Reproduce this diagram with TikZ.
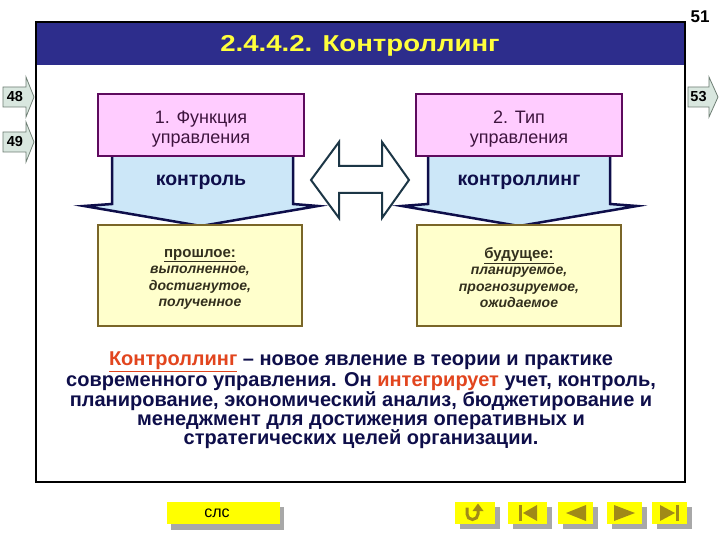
\documentclass[tikz,border=0pt]{standalone}
\usepackage{fontspec}
\setmainfont{Liberation Sans}
\usetikzlibrary{arrows.meta}
\definecolor{titleblue}{HTML}{2D2D8C}
\definecolor{titleyellow}{HTML}{FFFF3C}
\definecolor{pinkfill}{HTML}{FFCCFF}
\definecolor{pinkedge}{HTML}{5E0A5E}
\definecolor{pinktext}{HTML}{3E143E}
\definecolor{bluefill}{HTML}{CCE7F8}
\definecolor{navy}{HTML}{0E0E4A}
\definecolor{yellowfill}{HTML}{FFFFCC}
\definecolor{yellowedge}{HTML}{7A6628}
\definecolor{boxtext}{HTML}{33301E}
\definecolor{darkslate}{HTML}{1C3646}
\definecolor{redtext}{HTML}{E2451E}
\definecolor{navfill}{HTML}{D9E7DF}
\definecolor{navedge}{HTML}{6E7E74}
\definecolor{btnyellow}{HTML}{FFFF00}
\definecolor{btnshadow}{HTML}{A8A8A8}
\definecolor{glyph}{HTML}{A08A18}
\begin{document}
\begin{tikzpicture}[x=1pt,y=-1pt,
	funcbox/.style={draw=pinkedge, line width=2pt, fill=pinkfill, minimum width=206pt, minimum height=62pt, text=pinktext, align=center, font=\fontsize{18}{20}\selectfont},
	timebox/.style={draw=yellowedge, line width=1.6pt, fill=yellowfill, minimum width=204pt, minimum height=101pt, text=boxtext, align=center, font=\fontsize{14}{16.5}\selectfont\bfseries\itshape},
	arrowlabel/.style={text=navy, font=\fontsize{19.5}{22}\selectfont\bfseries},
	downarrow/.style={fill=bluefill, draw=navy, line width=2.5pt, line join=miter},
	navarrow/.style={fill=navfill, draw=navedge, line width=0.8pt},
	navnum/.style={font=\fontsize{14.5}{16}\selectfont\bfseries},
	btn/.style={fill=btnyellow},
	btnshade/.style={fill=btnshadow}]

	\useasboundingbox (0,0) rectangle (720,540);
	\fill[white] (0,0) rectangle (720,540);

	% frame and title
	\fill[titleblue] (36,22) rectangle (685,65);
	\draw[line width=2pt] (36,22) rectangle (685,482);
	\node[text=titleyellow, font=\fontsize{23}{28}\selectfont\bfseries\addfontfeature{FakeStretch=1.2}] (title) at (360,45.5) {2.4.4.2. Контроллинг};
	\node[font=\fontsize{17}{20}\selectfont\bfseries] (page) at (700,16.5) {51};

	% side links
	\draw[navarrow] (3,87)--(26,87)--(26,77)--(34,97)--(26,117)--(26,107)--(3,107)--cycle;
	\node[navnum] (p48) at (15,97) {48};
	\draw[navarrow] (3,132)--(26,132)--(26,122)--(34,142)--(26,162)--(26,152)--(3,152)--cycle;
	\node[navnum] (p49) at (15,142) {49};
	\draw[navarrow] (688,87)--(709,87)--(709,77)--(718,97)--(709,117)--(709,107)--(688,107)--cycle;
	\node[navnum] (p53) at (698.5,97) {53};

	% blue arrows
	\draw[downarrow] (112,150)--(112,204)--(84,206)--(201,226)--(318,206)--(293,204)--(293,150);
	\draw[downarrow] (428,150)--(428,204)--(402,206)--(519,226)--(637,206)--(610,204)--(610,150);
	\node[arrowlabel] (ctrl) at (201,182.5) {контроль};
	\node[arrowlabel] (ctrlling) at (519,182.5) {контроллинг};

	% pink boxes
	\node[funcbox] (func) at (201,125) {\rule{0pt}{19.8pt}1. Функция\\управления};
	\node[funcbox] (type) at (519,125) {\rule{0pt}{19.8pt}2. Тип\\управления};

	% double arrow
	\draw[draw=darkslate, fill=white, line width=2pt]
		(311,180)--(339,142)--(339,166)--(382,166)--(382,142)--(409,180)
		--(382,218)--(382,193)--(339,193)--(339,218)--cycle;

	% yellow boxes
	\node[timebox] (past) at (200,275.5) {{\fontsize{15}{16.5}\selectfont\upshape\rule{0pt}{15.5pt}\underline{прошлое:}}\\
		выполненное,\\достигнутое,\\полученное};
	\node[timebox] (future) at (519,275.5) {{\fontsize{15}{16.5}\selectfont\upshape\rule{0pt}{15.5pt}\underline{будущее:}}\\
		планируемое,\\прогнозируемое,\\ожидаемое};

	% text
	\node[text=navy, align=center, font=\fontsize{20}{19.3}\selectfont\bfseries] (about) at (361,400.5)
		{\textcolor{redtext}{\underline{Контроллинг}} -- новое явление в теории и практике\\
		современного управления. Он \textcolor{redtext}{интегрирует} учет, контроль,\\
		планирование, экономический анализ, бюджетирование и\\
		менеджмент для достижения оперативных и\\
		стратегических целей организации.};

	% buttons
	\fill[btnshade] (171,507) rectangle (284,530);
	\fill[btn] (167,502) rectangle (280,524);
	\node[font=\fontsize{16}{18}\selectfont] (slc) at (217,513) {слс};

	\foreach \bx/\ex in {455/495, 508/547, 558/593, 607/642, 652/687} {
		\fill[btnshade] (\bx+5,507) rectangle (\ex+5,529);
		\fill[btn] (\bx,502) rectangle (\ex,524);
	}
	% glyphs
	\draw[glyph, line width=3pt] (467,507.5)--(467,514) arc(180:0:5.5)--(478,510);
	\fill[glyph] (472.5,511)--(483.5,511)--(478,503.5)--cycle;
	\fill[glyph] (519,505) rectangle (522,521);
	\fill[glyph] (537,505)--(537,521)--(523,513)--cycle;
	\fill[glyph] (586,505)--(586,521)--(566,513)--cycle;
	\fill[glyph] (614,505)--(614,521)--(635,513)--cycle;
	\fill[glyph] (660,505)--(660,521)--(675,513)--cycle;
	\fill[glyph] (676,505) rectangle (679,521);

\end{tikzpicture}
\end{document}
